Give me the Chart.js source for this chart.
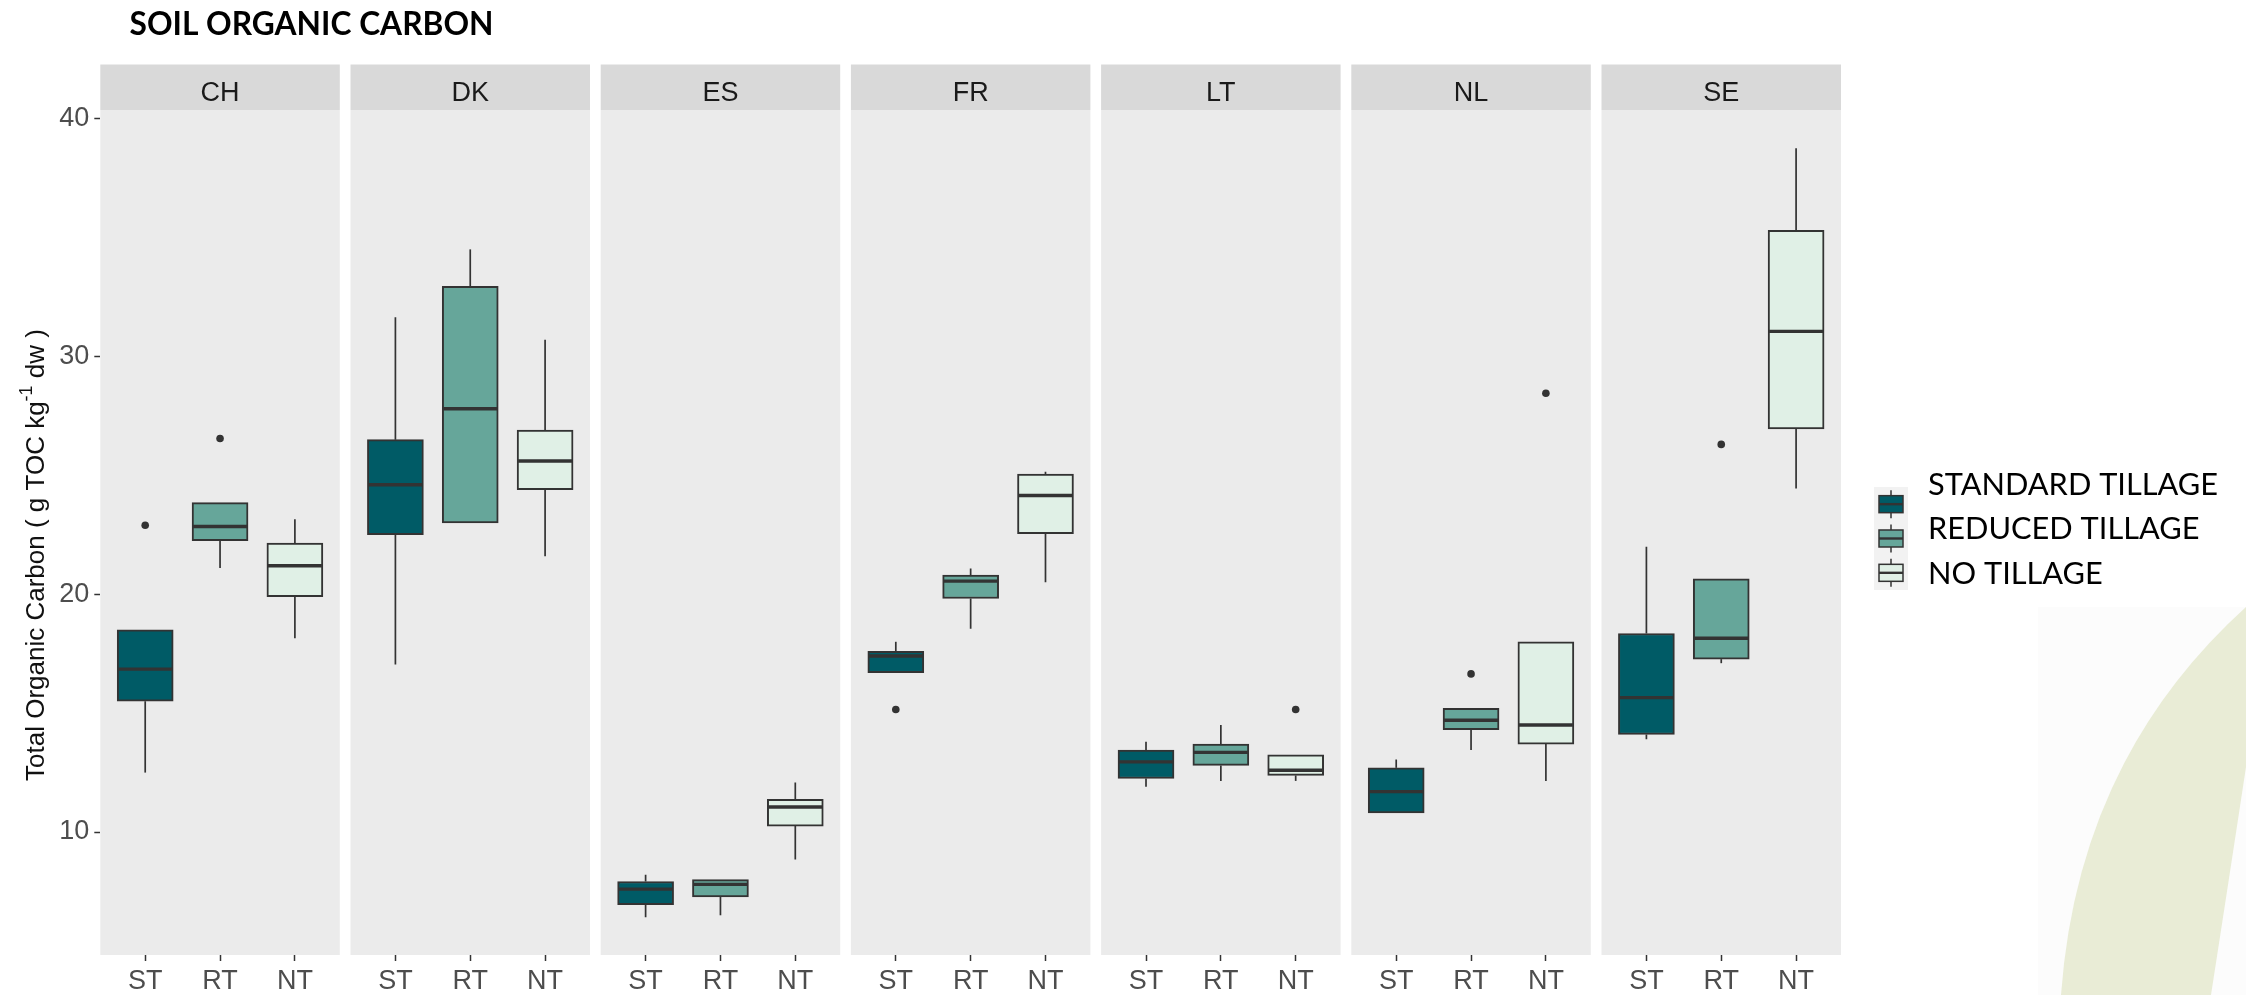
<!DOCTYPE html>
<html>
<head>
<meta charset="utf-8">
<title>Soil organic carbon</title>
<script src="https://cdn.jsdelivr.net/npm/chart.js@4.4.1/dist/chart.umd.min.js"></script>
<style>
  html, body { margin: 0; padding: 0; background: #ffffff; }
  #wrap { position: relative; width: 2246px; height: 995px; overflow: hidden; }
  #deco, #chart { position: absolute; left: 0; top: 0; }
</style>
</head>
<body>
<div id="wrap">
  <!-- page decoration in the lower right corner -->
  <svg id="deco" width="2246" height="995" viewBox="0 0 2246 995">
    <rect x="2038" y="607" width="208" height="388" fill="#fcfcfc"/>
    <path d="M2246,607 Q2078,759 2061,995 L2211,995 Q2229,879 2246,767 Z" fill="#e9ecd6"/>
  </svg>
  <canvas id="chart" width="2246" height="995"></canvas>
</div>
<script>
// ---- data: Total Organic Carbon (g TOC kg-1 dw) by country and tillage ----
const countries = ['CH', 'DK', 'ES', 'FR', 'LT', 'NL', 'SE'];
const treatments = ['ST', 'RT', 'NT'];
const treatmentNames = ['STANDARD TILLAGE', 'REDUCED TILLAGE', 'NO TILLAGE'];
const yTicks = [10, 20, 30, 40];

// standard tillage: whisker low, Q1, median, Q3, whisker high
const stLower  = [12.5, 17.05, 6.42, 16.7, 11.9, 10.8, 13.9];
const stQ1     = [15.5, 22.5, 6.95, 16.7, 12.25, 10.8, 14.1];
const stMedian = [16.85, 24.6, 7.6, 17.4, 12.95, 11.7, 15.65];
const stQ3     = [18.5, 26.5, 7.92, 17.6, 13.45, 12.7, 18.35];
const stUpper  = [18.5, 31.65, 8.2, 18.0, 13.8, 13.05, 22.0];

// reduced tillage
const rtLower  = [21.1, 23.0, 6.5, 18.55, 12.15, 13.45, 17.1];
const rtQ1     = [22.25, 23.0, 7.27, 19.82, 12.8, 14.3, 17.27];
const rtMedian = [22.85, 27.8, 7.8, 20.55, 13.35, 14.7, 18.15];
const rtQ3     = [23.85, 32.95, 8.0, 20.8, 13.7, 15.2, 20.65];
const rtUpper  = [23.85, 34.5, 8.0, 21.08, 14.5, 15.2, 20.65];

// no tillage
const ntLower  = [18.15, 21.6, 8.85, 20.5, 12.15, 12.15, 24.45];
const ntQ1     = [19.9, 24.4, 10.25, 22.55, 12.38, 13.7, 26.95];
const ntMedian = [21.2, 25.6, 11.05, 24.15, 12.6, 14.5, 31.05];
const ntQ3     = [22.15, 26.9, 11.38, 25.05, 13.25, 18.0, 35.3];
const ntUpper  = [23.15, 30.7, 12.08, 25.15, 13.25, 18.0, 38.75];

// outlying samples
const outlierCountry   = ['CH', 'CH', 'FR', 'LT', 'NL', 'NL', 'SE'];
const outlierTreatment = ['ST', 'RT', 'ST', 'NT', 'RT', 'NT', 'RT'];
const outlierValue     = [22.9, 26.55, 15.15, 15.15, 16.65, 28.45, 26.3];

// ---- styling ----
const fills = ['#005b66', '#66a69a', '#e0f0e6'];
const LINE = '#333333';
const AXIS_FONT = '"Liberation Sans", Arial, sans-serif';

const summaries = [
  { lower: stLower, q1: stQ1, median: stMedian, q3: stQ3, upper: stUpper },
  { lower: rtLower, q1: rtQ1, median: rtMedian, q3: rtQ3, upper: rtUpper },
  { lower: ntLower, q1: ntQ1, median: ntMedian, q3: ntQ3, upper: ntUpper }
];

// facet geometry in x-scale units: each panel spans 3.2 units (0.4 .. 3.6)
const PANEL = 3.2;
const GAP = 0.143;
const STEP = PANEL + GAP;
const XMAX = countries.length * PANEL + (countries.length - 1) * GAP;
const BOX_PX = 56;
const STRIP_TOP = 64.5;

function xPos(countryIndex, treatIndex) {
  return countryIndex * STEP + treatIndex + 0.6;
}

const tickPositions = [];
countries.forEach((c, i) => treatments.forEach((t, j) => tickPositions.push(xPos(i, j))));

const boxDatasets = treatments.map((t, j) => ({
  type: 'bar',
  label: treatmentNames[j],
  data: countries.map((c, i) => ({ x: xPos(i, j), y: [summaries[j].q1[i], summaries[j].q3[i]] })),
  backgroundColor: fills[j],
  borderColor: LINE,
  borderWidth: 2,
  borderSkipped: false,
  grouped: false,
  barThickness: BOX_PX,
  order: 2
}));

const outlierDataset = {
  type: 'scatter',
  label: 'outliers',
  data: outlierValue.map((v, k) => ({
    x: xPos(countries.indexOf(outlierCountry[k]), treatments.indexOf(outlierTreatment[k])),
    y: v
  })),
  pointRadius: 3.8,
  pointBackgroundColor: LINE,
  pointBorderWidth: 0,
  order: 1
};

// panel backgrounds and country strips
const facetPlugin = {
  id: 'facets',
  beforeDraw(chart) {
    const { ctx, chartArea, scales: { x } } = chart;
    ctx.save();
    countries.forEach((name, i) => {
      const l = x.getPixelForValue(i * STEP);
      const r = x.getPixelForValue(i * STEP + PANEL);
      ctx.fillStyle = '#ebebeb';
      ctx.fillRect(l, chartArea.top, r - l, chartArea.bottom - chartArea.top);
      ctx.fillStyle = '#d9d9d9';
      ctx.fillRect(l, STRIP_TOP, r - l, chartArea.top - STRIP_TOP);
      ctx.fillStyle = '#1a1a1a';
      ctx.font = '27px ' + AXIS_FONT;
      ctx.textAlign = 'center';
      ctx.textBaseline = 'alphabetic';
      ctx.fillText(name, (l + r) / 2, 100.5);
    });
    ctx.restore();
  }
};

// whiskers under the boxes, medians on top of them
const boxPlotPlugin = {
  id: 'boxplot',
  beforeDatasetsDraw(chart) {
    const { ctx, scales: { x, y } } = chart;
    ctx.save();
    ctx.strokeStyle = LINE;
    ctx.lineWidth = 1.7;
    summaries.forEach((s, j) => {
      countries.forEach((c, i) => {
        const px = x.getPixelForValue(xPos(i, j));
        ctx.beginPath();
        ctx.moveTo(px, y.getPixelForValue(s.q3[i]));
        ctx.lineTo(px, y.getPixelForValue(s.upper[i]));
        ctx.moveTo(px, y.getPixelForValue(s.q1[i]));
        ctx.lineTo(px, y.getPixelForValue(s.lower[i]));
        ctx.stroke();
      });
    });
    ctx.restore();
  },
  afterDatasetsDraw(chart) {
    const { ctx, scales: { x, y } } = chart;
    ctx.save();
    ctx.strokeStyle = LINE;
    ctx.lineWidth = 3.4;
    summaries.forEach((s, j) => {
      countries.forEach((c, i) => {
        const px = x.getPixelForValue(xPos(i, j));
        const py = y.getPixelForValue(s.median[i]);
        ctx.beginPath();
        ctx.moveTo(px - BOX_PX / 2 + 1, py);
        ctx.lineTo(px + BOX_PX / 2 - 1, py);
        ctx.stroke();
      });
    });
    ctx.restore();
  }
};

// headline, y-axis title with superscript, and the tillage legend
const decorPlugin = {
  id: 'decor',
  afterDraw(chart) {
    const { ctx } = chart;
    ctx.save();

    // headline
    ctx.fillStyle = '#000000';
    ctx.font = 'bold 32px Lato, "Open Sans", sans-serif';
    ctx.textAlign = 'left';
    ctx.textBaseline = 'alphabetic';
    const head = 'SOIL ORGANIC CARBON';
    const hw = ctx.measureText(head).width;
    ctx.save();
    ctx.translate(129.5, 35);
    ctx.scale(364 / hw, 1);
    ctx.fillText(head, 0, 0);
    ctx.restore();

    // y-axis title
    const parts = [
      { text: 'Total Organic Carbon ( g TOC kg', size: 26, dy: 0 },
      { text: '-1', size: 18, dy: -12 },
      { text: ' dw )', size: 26, dy: 0 }
    ];
    let total = 0;
    parts.forEach(p => { ctx.font = p.size + 'px ' + AXIS_FONT; p.w = ctx.measureText(p.text).width; total += p.w; });
    ctx.save();
    ctx.translate(44, 555);
    ctx.rotate(-Math.PI / 2);
    ctx.fillStyle = '#111111';
    let u = -total / 2;
    parts.forEach(p => {
      ctx.font = p.size + 'px ' + AXIS_FONT;
      ctx.fillText(p.text, u, p.dy);
      u += p.w;
    });
    ctx.restore();

    // legend keys
    const kx = 1874, ky = 487, kw = 34, kh = 34.33;
    ctx.fillStyle = '#f2f2f2';
    ctx.fillRect(kx, ky, kw, kh * 3);
    treatments.forEach((t, j) => {
      const cy = ky + kh * j + kh / 2;
      const cx = kx + kw / 2;
      ctx.strokeStyle = LINE;
      ctx.lineWidth = 1.5;
      ctx.beginPath();
      ctx.moveTo(cx, cy - 14); ctx.lineTo(cx, cy + 14);
      ctx.stroke();
      ctx.fillStyle = fills[j];
      ctx.fillRect(kx + 5, cy - 8.5, kw - 10, 17);
      ctx.strokeRect(kx + 5, cy - 8.5, kw - 10, 17);
      ctx.lineWidth = 2.4;
      ctx.beginPath();
      ctx.moveTo(kx + 5, cy); ctx.lineTo(kx + kw - 5, cy);
      ctx.stroke();
    });

    // legend labels
    ctx.fillStyle = '#000000';
    ctx.font = '30px Lato, "Open Sans", sans-serif';
    const sx = 290 / ctx.measureText(treatmentNames[0]).width;
    treatmentNames.forEach((name, j) => {
      ctx.save();
      ctx.translate(1928, 495 + j * 44.4);
      ctx.scale(sx, 1);
      ctx.fillText(name, 0, 0);
      ctx.restore();
    });
    ctx.restore();
  }
};

function build() {
  new Chart(document.getElementById('chart'), {
    type: 'bar',
    data: { datasets: [...boxDatasets, outlierDataset] },
    options: {
      responsive: false,
      animation: false,
      indexAxis: 'x',
      layout: { padding: { top: 110, right: 405, left: 0, bottom: 0 } },
      plugins: {
        legend: { display: false },
        title: { display: false },
        tooltip: { enabled: false }
      },
      scales: {
        x: {
          type: 'linear',
          min: 0,
          max: XMAX,
          offset: false,
          afterBuildTicks: s => { s.ticks = tickPositions.map(v => ({ value: v })); },
          afterFit: s => { s.height = 40; },
          grid: { display: true, drawOnChartArea: false, drawTicks: true, tickLength: 6, tickColor: LINE, tickWidth: 1.5, offset: false },
          border: { display: false },
          ticks: {
            autoSkip: false,
            maxRotation: 0,
            minRotation: 0,
            padding: 4,
            color: '#4d4d4d',
            font: { family: AXIS_FONT, size: 27 },
            callback: (v, i) => treatments[i % treatments.length]
          }
        },
        y: {
          type: 'linear',
          min: 4.83,
          max: 40.36,
          afterBuildTicks: s => { s.ticks = yTicks.map(v => ({ value: v })); },
          afterFit: s => { s.width = 100.3; },
          grid: { display: true, drawOnChartArea: false, drawTicks: true, tickLength: 6, tickColor: LINE, tickWidth: 1.5 },
          border: { display: false },
          ticks: {
            padding: 5,
            color: '#4d4d4d',
            font: { family: AXIS_FONT, size: 27 },
            callback: v => String(v)
          }
        }
      }
    },
    plugins: [facetPlugin, boxPlotPlugin, decorPlugin]
  });
}

const fontsReady = document.fonts && document.fonts.load
  ? Promise.all([
      document.fonts.load('bold 32px Lato'),
      document.fonts.load('30px Lato'),
      document.fonts.load('27px "Liberation Sans"')
    ]).catch(() => null)
  : Promise.resolve();
fontsReady.then(build, build);
</script>
</body>
</html>
